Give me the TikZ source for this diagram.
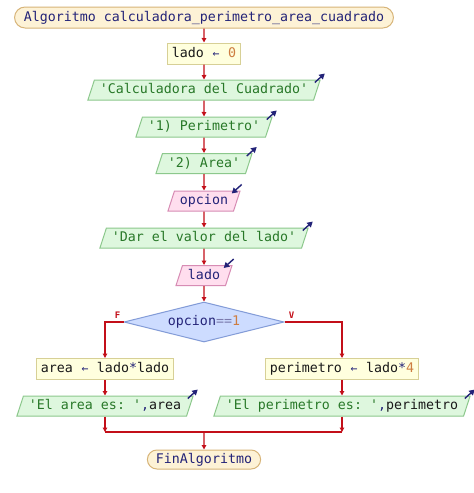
\documentclass[tikz,border=0pt]{standalone}
\usepackage{fontspec}
\setmonofont{DejaVu Sans Mono}
\usetikzlibrary{arrows.meta,shapes.geometric,shapes.misc,positioning,calc}

\definecolor{kwnavy}{RGB}{35,35,120}
\definecolor{strgreen}{RGB}{40,120,40}
\definecolor{numorange}{RGB}{205,125,65}
\definecolor{flowred}{RGB}{195,15,25}
\definecolor{termfill}{RGB}{253,242,214}
\definecolor{termdraw}{RGB}{215,180,120}
\definecolor{procfill}{RGB}{255,255,222}
\definecolor{procdraw}{RGB}{215,208,150}
\definecolor{outfill}{RGB}{222,247,222}
\definecolor{outdraw}{RGB}{140,200,140}
\definecolor{infill}{RGB}{255,222,238}
\definecolor{indraw}{RGB}{215,140,180}
\definecolor{condfill}{RGB}{205,220,255}
\definecolor{conddraw}{RGB}{130,155,215}

\newcommand{\pstr}[1]{\textcolor{strgreen}{#1}}
\newcommand{\pnum}[1]{\textcolor{numorange}{#1}}
\newcommand{\pkw}[1]{\textcolor{kwnavy}{#1}}
\newcommand{\asig}{\pkw{\makebox[8pt]{\fontsize{11.5}{11.5}\selectfont ←}}}

\tikzset{
  every node/.style={font=\ttfamily\fontsize{13.3}{14}\selectfont, text height=10pt, text depth=3pt},
  terminal/.style={rounded rectangle, draw=termdraw, fill=termfill, line width=1pt, inner xsep=7pt, inner ysep=4pt, text=kwnavy},
  process/.style={rectangle, draw=procdraw, fill=procfill, line width=1pt, inner xsep=4pt, inner ysep=4pt, text=black!90},
  output/.style={trapezium, trapezium left angle=72, trapezium right angle=108, draw=outdraw, fill=outfill, line width=1pt, inner xsep=5.5pt, inner ysep=3.5pt, text=strgreen},
  input/.style={trapezium, trapezium left angle=72, trapezium right angle=108, draw=indraw, fill=infill, line width=1pt, inner xsep=5.5pt, inner ysep=3.5pt, text=kwnavy},
  decision/.style={diamond, aspect=4, draw=conddraw, fill=condfill, line width=1pt, inner sep=0pt, minimum width=160pt, minimum height=40pt, text=kwnavy},
  flow/.style={draw=flowred, line width=1.4pt, -{Triangle[length=4.5pt,width=4.5pt]}},
  flowline/.style={draw=flowred, line width=1.4pt},
  icon/.style={draw=kwnavy, line width=1.4pt, -{Triangle[length=5.5pt,width=6pt]}},
  branch/.style={text=flowred, font=\ttfamily\bfseries\fontsize{9}{9}\selectfont}
}

\begin{document}
\begin{tikzpicture}[x=1pt,y=-1pt]
    \useasboundingbox[fill=white] (0,0) rectangle (474,493);

    % nodes of the flowchart
    \node[terminal] (start) at (204,17.5) {Algoritmo calculadora\_perimetro\_area\_cuadrado};
    \node[process] (lado0) at (204,53.5) {lado \asig\ \pnum{0}};
    \node[output] (msg1) at (204,90) {'Calculadora del Cuadrado'};
    \node[output] (msg2) at (204,127) {'1) Perimetro'};
    \node[output] (msg3) at (204,163.5) {'2) Area'};
    \node[input] (leeopc) at (204,201) {opcion};
    \node[output] (msg4) at (204,238) {'Dar el valor del lado'};
    \node[input] (leelado) at (204,275.5) {lado};
    \node[decision] (cond) at (204,322) {opcion\textcolor{kwnavy!60}{==}\pnum{1}};
    \node[process] (area) at (105,369) {area \asig\ lado\pkw{*}lado};
    \node[process] (peri) at (342,369) {perimetro \asig\ lado\pkw{*}\pnum{4}};
    \node[output] (msgarea) at (105,406) {'El area es: '\pkw{,}\textcolor{black!90}{area}};
    \node[output] (msgperi) at (342,406) {'El perimetro es: '\pkw{,}\textcolor{black!90}{perimetro}};
    \coordinate (merge) at (204,432);
    \node[terminal, inner xsep=6pt, inner ysep=3pt] (fin) at (204,459.5) {FinAlgoritmo};

    % connectors
    \draw[flow] (start) -- (lado0);
    \draw[flow] (lado0) -- (msg1);
    \draw[flow] (msg1) -- (msg2);
    \draw[flow] (msg2) -- (msg3);
    \draw[flow] (msg3) -- (leeopc);
    \draw[flow] (leeopc) -- (msg4);
    \draw[flow] (msg4) -- (leelado);
    \draw[flow] (leelado) -- (cond);
    \draw[flow] (cond.west) -| (area);
    \draw[flow] (cond.east) -| (peri);
    \draw[flow] (area) -- (msgarea);
    \draw[flow] (peri) -- (msgperi);
    \draw[flow] (msgarea) -- (msgarea |- merge);
    \draw[flow] (msgperi) -- (msgperi |- merge);
    \draw[flowline] (msgarea |- merge) -- (msgperi |- merge);
    \draw[flow] (merge) -- (fin);

    % branch labels
    \node[branch] (lblf) at ($(cond.west)+(-6,-7)$) {F};
    \node[branch] (lblv) at ($(cond.east)+(7,-7)$) {V};

    % output / input marks
    \foreach \n in {msg1,msg2,msg3,msg4,msgarea,msgperi} {
        \draw[icon] ([shift={(-6,3)}]\n.top right corner) -- ([shift={(4,-6)}]\n.top right corner);
    }
    \foreach \n in {leeopc,leelado} {
        \draw[icon] ([shift={(1,-6)}]\n.top right corner) -- ([shift={(-9,3)}]\n.top right corner);
    }
\end{tikzpicture}
\end{document}
